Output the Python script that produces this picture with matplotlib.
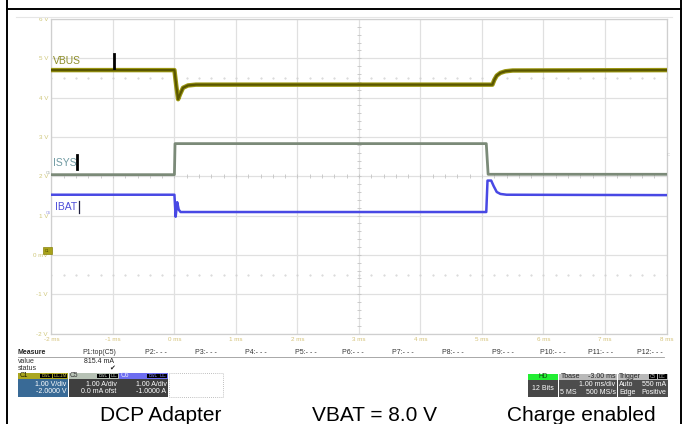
import numpy as np
import matplotlib
matplotlib.use("Agg")
import matplotlib.pyplot as plt
from matplotlib.patches import Rectangle

plt.rcParams['font.family'] = ['Liberation Sans', 'DejaVu Sans']

# ---------------- data ----------------
x_ticks = [-2, -1, 0, 1, 2, 3, 4, 5, 6, 7, 8]
x_labels = ["-2 ms", "-1 ms", "0 ms", "1 ms", "2 ms", "3 ms", "4 ms", "5 ms", "6 ms", "7 ms", "8 ms"]
y_ticks = [-2, -1, 0, 1, 2, 3, 4, 5, 6]
y_labels = ["-2 V", "-1 V", "0 mV", "1 V", "2 V", "3 V", "4 V", "5 V", "6 V"]

vbus_t = [-2, 0.0, 0.03, 0.06, 0.09, 0.14, 0.22, 0.35, 5.17, 5.20, 5.24, 5.30, 5.38, 5.50, 8]
vbus_v = [4.70, 4.70, 4.30, 3.96, 4.08, 4.25, 4.31, 4.33, 4.33, 4.45, 4.56, 4.63, 4.67, 4.69, 4.70]

isys_t = [-2, 0.0, 0.01, 5.07, 5.10, 8]
isys_v = [2.04, 2.04, 2.83, 2.83, 2.05, 2.05]

ibat_t = [-2, 0.0, 0.02, 0.045, 0.07, 0.10, 0.20, 5.07, 5.09, 5.15, 5.19, 5.24, 5.30, 5.40, 8]
ibat_v = [1.53, 1.53, 0.97, 1.34, 1.15, 1.09, 1.09, 1.09, 1.89, 1.89, 1.75, 1.60, 1.55, 1.53, 1.52]

measure_cols = ["P1:top(C5)", "P2:- - -", "P3:- - -", "P4:- - -", "P5:- - -", "P6:- - -",
                "P7:- - -", "P8:- - -", "P9:- - -", "P10:- - -", "P11:- - -", "P12:- - -"]
measure_value = "815.4 mA"
captions = ["DCP Adapter", "VBAT = 8.0 V", "Charge enabled"]

# ---------------- figure ----------------
W, H = 682, 424
fig = plt.figure(figsize=(W / 100, H / 100), dpi=100)
fig.patch.set_facecolor('white')

def frac(x0, ytop, x1, ybot):
    return [x0 / W, 1 - ybot / H, (x1 - x0) / W, (ybot - ytop) / H]

ax = fig.add_axes(frac(51.4, 19, 666.5, 333.5))
ax.set_xlim(-2, 8)
ax.set_ylim(-2, 6)
ax.set_facecolor('white')
ax.set_xticks(x_ticks)
ax.set_xticklabels(x_labels)
ax.set_yticks(y_ticks)
ax.set_yticklabels(y_labels)
ax.tick_params(length=0, labelsize=4.5, pad=2.5)
for lab in ax.get_xticklabels():
    lab.set_color('#d4c27a')
for lab in ax.get_yticklabels():
    lab.set_color('#cfc77a')
ax.grid(True, color='#e0e0e0', lw=0.9)
for s in ax.spines.values():
    s.set_color('#cfcfcf')
    s.set_linewidth(0.9)

# center axis minor ticks and dotted reference lines
minor_t = np.arange(-2, 8.001, 0.2)
ax.plot(minor_t, np.full_like(minor_t, 2.0), ls='none', marker='|', ms=3, mew=0.6, color='#c4c4c4')
minor_v = np.arange(-2, 6.001, 0.2)
ax.plot(np.full_like(minor_v, 3.0), minor_v, ls='none', marker='_', ms=3, mew=0.6, color='#c4c4c4')
for yy in (4.5, -0.5):
    ax.plot(minor_t, np.full_like(minor_t, yy), ls='none', marker='.', ms=1.0, color='#d2d2d2')

# traces
ax.plot(vbus_t, vbus_v, color='#9a9612', lw=3.2, solid_joinstyle='round', zorder=3)
ax.plot(vbus_t, vbus_v, color='#5a5600', lw=1.6, solid_joinstyle='round', zorder=4)
ax.plot(isys_t, isys_v, color='#7b8a78', lw=2.0, zorder=3)
ax.plot(ibat_t, ibat_v, color='#4848e4', lw=1.8, zorder=3)

# ---------------- overlay in pixel coordinates ----------------
ov = fig.add_axes([0, 0, 1, 1])
ov.set_xlim(0, W)
ov.set_ylim(H, 0)
ov.axis('off')
ov.patch.set_visible(False)

# outer table border
ov.plot([7, 7], [0, H], color='black', lw=1.4)
ov.plot([681, 681], [0, H], color='black', lw=1.4)
ov.plot([7, 682], [9, 9], color='black', lw=1.4)
ov.plot([16, 672], [17, 17], color='#e6e6e6', lw=0.8)

# trace labels and cursors
ov.text(53, 61.5, "VBUS", color='#8e8e2a', fontsize=7.5, va='center', ha='left')
ov.plot([113.5, 113.5], [54, 68], color='black', lw=2.0)
ov.text(53, 162.5, "ISYS", color='#6f9aa2', fontsize=7.5, va='center', ha='left')
ov.plot([77, 77], [155, 168.5], color='black', lw=2.0)
ov.text(55, 207, "IBAT", color='#4d4dd9', fontsize=7.5, va='center', ha='left')
ov.plot([78.5, 78.5], [201, 212.5], color='#202040', lw=0.9)

# channel markers
ov.text(51, 173.5, "C5", fontsize=2.8, color='#9aa59a', ha='right', va='center')
ov.text(51, 212.5, "C6", fontsize=2.8, color='#8a8ae0', ha='right', va='center')
ov.add_patch(Rectangle((43, 247), 9, 7, facecolor='#a8a21a', edgecolor='#8a8410', lw=0.5))
ov.text(47.5, 250.5, "C1", fontsize=2.6, color='#4a4700', ha='center', va='center')
ov.text(668, 155, "C", fontsize=3, color='#bbbbbb', ha='center', va='center')

# measure table
fs = 5.0
ov.text(18, 353, "Measure", fontsize=fs, fontweight='bold', color='#222222', va='center')
col_x = [82.7, 145, 195, 245, 295, 342, 392, 442, 492, 540, 588, 637]
for cx, lab in zip(col_x, measure_cols):
    ov.text(cx, 353, lab, fontsize=fs, color='#333333', va='center', ha='left')
ov.plot([18, 664], [357, 357], color='#9a9a9a', lw=0.6)
ov.text(18, 361.5, "value", fontsize=fs, color='#333333', va='center')
ov.text(114, 361.5, measure_value, fontsize=fs, color='#222222', va='center', ha='right')
ov.text(18, 369, "status", fontsize=fs, color='#333333', va='center')
ov.text(112, 368.5, "\u2714", fontsize=5, color='#222222', va='center', ha='center')

def chan_box(x0, x1, top_col, name, name_col, tags, tag_col, l1, l2, bot_col):
    ov.add_patch(Rectangle((x0, 373), x1 - x0, 5.7, facecolor=top_col, edgecolor='none'))
    ov.add_patch(Rectangle((x0, 378.7), x1 - x0, 18.3, facecolor=bot_col, edgecolor='none'))
    ov.text(x0 + 1.5, 375.9, name, fontsize=4.8, color=name_col, va='center', ha='left')
    tx = x1 - 1
    for t in reversed(tags):
        w = 3.3 * len(t) + 1.5
        ov.add_patch(Rectangle((tx - w, 373.6), w, 4.6, facecolor='black', edgecolor='none'))
        ov.text(tx - w / 2, 375.9, t, fontsize=3.4, color=tag_col, va='center', ha='center')
        tx -= w + 0.8
    ov.text(x1 - 2, 384.5, l1, fontsize=fs, color='white', va='center', ha='right')
    ov.text(x1 - 2, 391.5, l2, fontsize=fs, color='white', va='center', ha='right')

chan_box(18.3, 68.3, '#aaa620', "C1", '#222200', ["BwL", "DC1M"], '#c8c048',
         "1.00 V/div", "-2.0000 V", '#396a96')
chan_box(68.6, 118.6, '#b7c2b5', "C5", '#333333', ["BwL", "DC"], '#c0ccc0',
         "1.00 A/div", "0.0 mA ofst", '#3f3f3f')
chan_box(118.9, 168.4, '#6e6ef0', "C6", '#e8e8ff', ["BwL", "DC"], '#8080ff',
         "1.00 A/div", "-1.0000 A", '#3f3f3f')
ov.add_patch(Rectangle((168.6, 373), 54.5, 24, facecolor='none', edgecolor='#aaaaaa',
                       lw=0.6, ls=(0, (1, 1.5))))

# timebase / trigger panels
ov.add_patch(Rectangle((528.3, 374), 29.5, 5.5, facecolor='#22ee33', edgecolor='none'))
ov.add_patch(Rectangle((528.3, 379.5), 29.5, 17.5, facecolor='#474747', edgecolor='none'))
ov.text(543, 376.8, "HD", fontsize=4.8, color='#114411', ha='center', va='center')
ov.text(543, 388, "12 Bits", fontsize=fs, color='white', ha='center', va='center')

ov.add_patch(Rectangle((559, 374), 58, 5.5, facecolor='#b9b9b9', edgecolor='none'))
ov.add_patch(Rectangle((559, 379.5), 58, 17.5, facecolor='#4d4d4d', edgecolor='none'))
ov.text(560.5, 376.8, "Tbase", fontsize=fs, color='#222222', va='center', ha='left')
ov.text(615.5, 376.8, "-3.00 ms", fontsize=fs, color='#222222', va='center', ha='right')
ov.text(615.5, 384.5, "1.00 ms/div", fontsize=fs, color='white', va='center', ha='right')
ov.text(560.5, 392, "5 MS", fontsize=fs, color='white', va='center', ha='left')
ov.text(615.5, 392, "500 MS/s", fontsize=fs, color='white', va='center', ha='right')

ov.add_patch(Rectangle((617.8, 374), 50, 5.5, facecolor='#b9b9b9', edgecolor='none'))
ov.add_patch(Rectangle((617.8, 379.5), 50, 17.5, facecolor='#4d4d4d', edgecolor='none'))
ov.text(619.3, 376.8, "Trigger", fontsize=fs, color='#222222', va='center', ha='left')
for bx, t in ((648.5, "C5"), (658, "DC")):
    ov.add_patch(Rectangle((bx, 374.4), 8.5, 4.7, facecolor='black', edgecolor='none'))
    ov.text(bx + 4.25, 376.8, t, fontsize=3.4, color='#bbbbbb', va='center', ha='center')
ov.text(619.3, 384.5, "Auto", fontsize=fs, color='white', va='center', ha='left')
ov.text(666.5, 384.5, "550 mA", fontsize=fs, color='white', va='center', ha='right')
ov.text(619.3, 392, "Edge", fontsize=fs, color='white', va='center', ha='left')
ov.text(666.5, 392, "Positive", fontsize=fs, color='white', va='center', ha='right')

# captions
for cx, cap in zip([161, 375, 581], captions):
    ov.text(cx, 420.6, cap, fontsize=15, color='black', ha='center', va='baseline')

fig.savefig("out.png", dpi=100, facecolor='white')
